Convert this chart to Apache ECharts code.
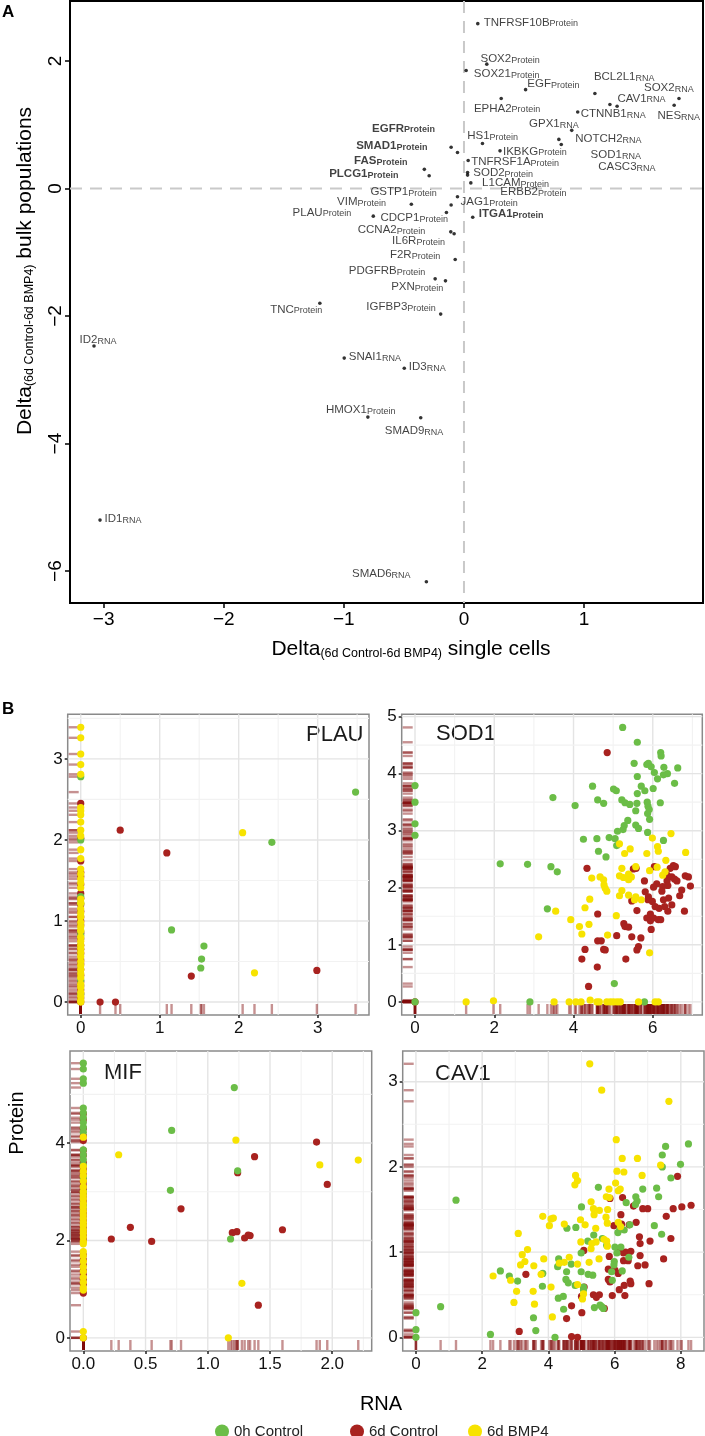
<!DOCTYPE html>
<html>
<head>
<meta charset="utf-8">
<script src="https://cdn.jsdelivr.net/npm/echarts@6/dist/echarts.min.js"></script>
<style>
html, body { margin: 0; padding: 0; background: #fff; }
#chart { width: 705px; height: 1436px; }
</style>
</head>
<body>
<div id="chart"></div>
<script>
// ---------- Panel A: delta single cells vs delta bulk ----------
const genesA = ['TNFRSF10B','SOX2','SOX21','EGF','EPHA2','BCL2L1','SOX2','CAV1','CASC3','CTNNB1','NES','GPX1','SOD1','NOTCH2',
  'HS1','IKBKG','TNFRSF1A','SOD2','ERBB2','L1CAM','JAG1','ITGA1','EGFR','SMAD1','FAS','PLCG1','GSTP1','VIM','PLAU','CDCP1',
  'CCNA2','IL6R','F2R','PDGFRB','PXN','TNC','IGFBP3','ID2','SNAI1','ID3','HMOX1','SMAD9','ID1','SMAD6'];
const typesA = ['Protein','Protein','Protein','Protein','Protein','RNA','RNA','RNA','RNA','RNA','RNA','RNA','RNA','RNA',
  'Protein','Protein','Protein','Protein','Protein','Protein','Protein','Protein','Protein','Protein','Protein','Protein','Protein','Protein','Protein','Protein',
  'Protein','Protein','Protein','Protein','Protein','Protein','Protein','RNA','RNA','RNA','Protein','RNA','RNA','RNA'];
const singleCellDelta = [0.115,0.19,0.018,0.513,0.31,1.09,1.79,1.275,1.215,0.947,1.75,0.897,0.79,0.81,
  0.154,0.30,0.035,0.03,0.03,0.057,-0.054,0.073,-0.107,-0.054,-0.33,-0.29,-0.107,-0.438,-0.755,-0.146,
  -0.11,-0.082,-0.073,-0.24,-0.154,-1.2,-0.194,-3.08,-0.997,-0.497,-0.80,-0.36,-3.03,-0.313];
const bulkDelta = [2.585,1.95,1.85,1.55,1.41,1.49,1.41,1.29,1.316,1.20,1.305,0.912,0.77,0.69,
  0.705,0.59,0.44,0.25,0.21,0.088,-0.13,-0.45,0.647,0.565,0.30,0.20,-0.26,-0.246,-0.434,-0.376,
  -0.68,-0.71,-1.113,-1.417,-1.448,-1.80,-1.97,-2.47,-2.66,-2.82,-3.585,-3.595,-5.20,-6.166];
const boldGenes = ['EGFR','SMAD1','FAS','PLCG1','ITGA1'];
// label placement (pixels from point), layout only
const labelOffsetA = [[6,-1.7],[-6.3,-5.7],[7.7,3.3],[1.7,-6],[-27.3,9.3],[-1,-17.3],[-35,-11],[0.3,-8.3],[-11.7,61.7],[3,1.7],[-16.7,10],[-42.7,-7.3],[31.7,14.7],[14,-6.3],
  [-15.3,-8.3],[3,0],[3,0.7],[5.7,-0.3],[32.7,16.7],[11.3,-0.7],[3,5],[6,-3.7],[-79,-19.3],[-101.3,-7],[-70.3,-9.3],[-100,-2],[-80.7,-13.3],[-74.3,-3],[-80.7,-4.3],[-66,5.3],
  [-93,-2.3],[-62,7],[-65.3,-5.3],[-86.3,-8.7],[-54.3,6],[-49.7,5.7],[-74.3,-7.3],[-14.4,-6.3],[4.5,-2],[4.5,-2.3],[-41.9,-7.7],[-36,12.3],[4.5,-1.7],[-74.4,-8.3]];
const xTicksA = [-3,-2,-1,0,1];
const yTicksA = [-6,-4,-2,0,2];

// ---------- Panel B: RNA vs protein per cell, [rna, protein] ----------
const groups = ['0h Control','6d Control','6d BMP4'];

const PLAU_0h = [[3.48,2.59],[2.42,1.97],[1.15,0.89],[1.56,0.69],[1.53,0.53],[1.52,0.42],
  [0,2.78],[0,2.00],[0,1.30],[0,1.22],[0,0.87],[0,0.82],[0,0.27],[0,0.10]];
const PLAU_6dCtrl = [[0.50,2.12],[1.09,1.84],[1.40,0.32],[2.99,0.39],[0.245,0],[0.44,0],
  [0,2.45],[0,2.02],[0,1.74],[0,1.60],[0,1.55],[0,1.45],[0,1.34],[0,1.28],[0,1.20],[0,1.12],[0,1.05],[0,1.00],[0,0.95],
  [0,0.85],[0,0.78],[0,0.70],[0,0.65],[0,0.60],[0,0.52],[0,0.47],[0,0.40],[0,0.33],[0,0.25],[0,0.20],[0,0.15],[0,0.10],
  [0,0.05],[0,0]];
const PLAU_6dBMP4 = [[2.05,2.09],[2.20,0.36],
  [0,3.39],[0,3.26],[0,3.06],[0,2.93],[0,2.81],[0,2.40],[0,2.36],[0,2.31],[0,2.22],[0,2.12],[0,2.05],[0,1.88],[0,1.77],
  [0,1.64],[0,1.58],[0,1.52],[0,1.47],[0,1.41],[0,1.27],[0,1.22],[0,1.15],[0,1.10],[0,1.05],[0,0.98],[0,0.93],[0,0.88],
  [0,0.80],[0,0.75],[0,0.70],[0,0.66],[0,0.61],[0,0.56],[0,0.50],[0,0.45],[0,0.40],[0,0.35],[0,0.30],[0,0.22],[0,0.18],
  [0,0.12],[0,0.07],[0,0.02],[0,0]];

const SOD1_0h = [[5.24,4.81],[5.61,4.55],[6.20,4.37],[6.21,4.31],[5.53,4.18],[5.85,4.16],[5.89,4.18],[5.96,4.12],[6.28,4.11],
  [6.63,4.10],[6.04,4.02],[6.27,3.98],[6.37,4.00],[6.12,3.91],[5.61,3.95],[6.55,3.83],[4.48,3.78],[5.71,3.78],[5.80,3.70],
  [6.01,3.74],[5.01,3.73],[5.08,3.70],[5.61,3.65],[3.48,3.58],[4.04,3.44],[4.61,3.54],[4.76,3.48],[5.22,3.54],[5.30,3.49],
  [5.42,3.46],[5.60,3.48],[5.86,3.50],[5.88,3.43],[5.91,3.37],[6.19,3.49],[5.57,3.35],[5.87,3.30],[5.92,3.20],[5.37,3.18],
  [5.28,3.09],[5.25,3.02],[5.11,2.99],[5.57,3.10],[5.64,3.04],[5.87,2.97],[4.25,2.85],[4.59,2.86],[4.90,2.88],[5.05,2.86],
  [5.09,2.74],[6.27,2.83],[4.63,2.64],[4.82,2.54],[2.84,2.41],[3.43,2.37],[3.59,2.28],[3.34,1.63],[2.15,2.42],[5.03,0.32],
  [2.90,0],[5.79,0],[0,3.79],[0,3.50],[0,3.12],[0,2.92],[0,0]];
const SOD1_6dCtrl = [[4.85,4.37],[4.34,2.34],[5.51,2.33],[5.58,2.34],[6.04,2.37],[6.52,2.39],[6.57,2.37],[6.44,2.34],[6.36,2.22],
  [6.48,2.19],[6.55,2.15],[6.82,2.21],[6.90,2.19],[5.79,2.12],[6.36,2.12],[6.61,2.12],[6.10,2.07],[6.02,2.01],[6.25,2.02],
  [6.38,2.04],[6.95,2.03],[6.73,1.96],[5.81,1.93],[5.89,1.84],[6.23,1.94],[6.68,1.86],[5.47,1.77],[5.99,1.76],[5.88,1.79],
  [6.27,1.79],[6.40,1.82],[6.48,1.70],[6.06,1.67],[6.16,1.64],[6.30,1.67],[5.60,1.60],[6.38,1.59],[6.80,1.59],[5.94,1.54],
  [5.85,1.47],[5.94,1.42],[6.02,1.47],[6.14,1.44],[6.20,1.44],[5.96,1.27],[4.61,1.54],[5.27,1.37],[5.30,1.32],[5.39,1.31],
  [5.47,1.14],[5.70,1.12],[4.61,1.07],[4.70,1.07],[5.09,1.16],[4.29,0.92],[4.76,0.92],[4.80,0.91],[5.64,0.97],[5.60,0.91],
  [4.21,0.75],[5.32,0.75],[4.60,0.61],[4.38,0.27],[0,0]];
const SOD1_6dBMP4 = [[6.46,2.95],[5.99,2.87],[5.16,2.77],[5.43,2.68],[5.29,2.60],[6.12,2.72],[6.14,2.64],[5.85,2.60],[6.83,2.62],
  [6.33,2.48],[5.22,2.34],[5.57,2.37],[6.11,2.36],[5.92,2.30],[5.16,2.21],[5.26,2.18],[5.39,2.24],[5.46,2.19],[5.39,2.14],
  [6.25,2.22],[6.31,2.28],[4.46,2.17],[4.67,2.19],[4.76,2.14],[4.77,2.05],[4.80,1.99],[4.84,1.94],[5.22,1.95],[5.16,1.86],
  [5.39,1.87],[5.57,1.84],[5.71,1.79],[5.54,1.79],[4.41,1.80],[4.29,1.65],[5.08,1.51],[3.55,1.59],[3.93,1.44],[4.15,1.32],
  [4.39,1.36],[4.21,1.19],[4.86,1.17],[3.12,1.14],[5.92,0.86],
  [1.29,0],[1.98,0.02],[3.51,0],[3.89,0],[4.06,0],[4.19,0],[4.42,0.03],[4.59,0],[4.65,0],[4.84,0],[4.93,0],[5.01,0],
  [5.10,0],[5.18,0],[5.64,0],[6.06,0],[6.14,0]];

const MIF_0h = [[1.213,5.14],[0.71,4.26],[1.24,3.43],[0.70,3.03],[1.183,2.03],
  [0,5.64],[0,5.52],[0,5.32],[0,5.23],[0,4.72],[0,4.62],[0,4.52],[0,4.42],[0,4.32],[0,4.22],[0,3.86],[0,3.76],[0,3.66],
  [0,3.55],[0,3.30],[0,3.00],[0,2.70]];
const MIF_6dCtrl = [[1.874,4.02],[1.376,3.72],[1.24,3.39],[1.96,3.15],[0.785,2.65],[0.378,2.27],[0.225,2.03],[0.549,1.98],
  [1.197,2.16],[1.234,2.18],[1.296,2.05],[1.325,2.11],[1.34,2.10],[1.60,2.22],[1.406,0.67],
  [0,4.60],[0,4.48],[0,4.30],[0,4.15],[0,4.05],[0,3.85],[0,3.75],[0,3.60],[0,3.52],[0,3.45],[0,3.35],[0,3.28],[0,3.20],
  [0,3.12],[0,3.05],[0,2.97],[0,2.90],[0,2.82],[0,2.75],[0,2.68],[0,2.60],[0,2.55],[0,2.50],[0,2.42],[0,2.35],[0,2.27],
  [0,2.20],[0,2.14],[0,2.10],[0,2.04],[0,2.00],[0,1.70],[0,1.60],[0,1.50],[0,1.38],[0,1.30],[0,1.20],[0,1.10],[0,0.92],[0,0]];
const MIF_6dBMP4 = [[1.226,4.06],[0.284,3.76],[1.90,3.55],[2.209,3.65],[1.274,1.12],[1.165,0],
  [0,4.12],[0,3.52],[0,3.42],[0,3.33],[0,3.22],[0,3.10],[0,3.00],[0,2.92],[0,2.85],[0,2.76],[0,2.68],[0,2.60],[0,2.52],
  [0,2.45],[0,2.37],[0,2.30],[0,2.22],[0,2.15],[0,2.07],[0,1.98],[0,1.93],[0,1.77],[0,1.68],[0,1.57],[0,1.46],[0,1.36],
  [0,1.24],[0,1.14],[0,1.03],[0,0.98],[0,0.13],[0,0]];

const CAV1_0h = [[8.23,2.27],[7.54,2.24],[7.44,2.14],[7.99,2.03],[7.44,2.00],[7.70,1.87],[5.51,1.76],[7.27,1.75],[6.85,1.74],
  [6.64,1.65],[6.68,1.60],[6.63,1.56],[7.33,1.65],[6.35,1.58],[5.00,1.53],[4.56,1.28],[4.83,1.29],[6.16,1.27],[6.29,1.26],
  [6.46,1.32],[7.20,1.31],[7.42,1.21],[6.10,1.23],[5.37,1.20],[5.63,1.16],[5.19,1.13],[6.01,1.06],[6.19,1.06],[5.76,1.08],
  [6.07,0.99],[5.99,0.89],[5.98,0.85],[5.91,0.77],[5.93,0.67],[6.43,0.94],[6.23,0.78],[4.99,0.99],[4.31,0.92],[4.28,0.83],
  [4.69,0.86],[4.55,0.77],[4.99,0.77],[5.20,0.74],[5.34,0.73],[3.83,0.75],[2.82,0.72],[2.55,0.78],[3.07,0.66],[4.53,0.68],
  [4.60,0.64],[3.82,0.60],[4.81,0.61],[5.06,0.59],[5.06,0.56],[4.30,0.46],[4.45,0.48],[5.39,0.35],[5.56,0.38],[5.61,0.36],
  [5.66,0.34],[4.46,0.33],[3.55,0.23],[3.62,0.08],[4.20,0],[2.25,0.035],[1.21,1.61],[0.745,0.36],[0,0.29],[0,0.09],[0,0]];
const CAV1_6dCtrl = [[7.90,1.89],[7.56,1.42],[7.77,1.51],[8.03,1.53],[8.31,1.55],[6.85,1.51],[7.00,1.51],[6.57,1.54],[6.24,1.64],
  [5.86,1.63],[7.70,1.16],[7.48,0.92],[7.07,1.13],[6.75,1.18],[6.77,1.10],[6.65,1.35],[6.19,1.44],[5.98,1.31],[6.21,1.33],
  [6.44,1.32],[6.33,1.00],[6.49,1.01],[6.14,1.03],[6.27,0.99],[5.84,0.95],[6.77,0.96],[5.07,1.02],[6.27,0.90],[6.41,0.90],
  [6.92,0.85],[6.70,0.84],[5.81,0.80],[6.01,0.79],[6.11,0.75],[5.81,0.68],[5.86,0.65],[6.47,0.66],[6.49,0.63],[7.04,0.63],
  [6.29,0.61],[6.14,0.56],[6.31,0.49],[5.93,0.49],[5.08,0.59],[5.00,0.48],[5.36,0.50],[5.54,0.50],[5.45,0.47],[5.69,0.34],
  [4.70,0.37],[5.01,0.29],[4.55,0.22],[3.32,0.74],[3.12,0.07],[4.70,0.01],[4.88,0]];
const CAV1_6dBMP4 = [[5.25,3.21],[5.61,2.90],[7.64,2.77],[6.05,2.32],[6.23,2.10],[6.69,2.10],[7.39,2.02],[6.07,1.95],[6.28,1.94],
  [6.83,1.90],[4.82,1.90],[4.88,1.84],[4.80,1.79],[6.03,1.81],[5.83,1.74],[6.11,1.72],[6.17,1.74],[5.75,1.65],[5.29,1.59],
  [5.36,1.51],[5.54,1.49],[5.38,1.44],[5.79,1.50],[5.74,1.41],[5.78,1.34],[3.83,1.42],[4.08,1.39],[4.15,1.40],[4.03,1.31],
  [4.48,1.33],[4.97,1.38],[5.11,1.32],[5.43,1.28],[6.11,1.35],[6.18,1.30],[3.09,1.22],[5.44,1.12],[5.68,1.15],[4.98,1.12],
  [5.31,1.10],[5.29,1.04],[5.76,1.13],[5.78,1.07],[3.37,1.03],[3.21,0.97],[3.16,0.85],[3.29,0.89],[3.56,0.84],[3.86,0.92],
  [4.63,0.94],[4.88,0.86],[5.23,0.88],[5.53,0.92],[4.48,0.88],[4.33,0.87],[3.78,0.74],[2.86,0.67],[3.04,0.54],[3.54,0.54],
  [4.08,0.59],[4.88,0.62],[2.96,0.41],[3.58,0.39],[5.06,0.51],[5.03,0.45],[4.12,0.24],[2.33,0.72],[5.84,1.64]];

// tick labels for the four small panels
const PLAU_xTicks = [0,1,2,3], PLAU_yTicks = [0,1,2,3];
const SOD1_xTicks = [0,2,4,6], SOD1_yTicks = [0,1,2,3,4,5];
const MIF_xTicks = [0,0.5,1,1.5,2], MIF_yTicks = [0,2,4];
const CAV1_xTicks = [0,2,4,6,8], CAV1_yTicks = [0,1,2,3];

// ---------- layout / style ----------
const FONT = "'Liberation Sans', Arial, Helvetica, sans-serif";
const COLORS = ['#6bbd47', '#a8221f', '#f7e300'];
const RUG = 'rgba(128,12,12,0.45)';

const panels = [
  { gene: 'PLAU', data: [PLAU_0h, PLAU_6dCtrl, PLAU_6dBMP4], xt: PLAU_xTicks, yt: PLAU_yTicks,
    xm: [0.5,1.5,2.5,3.5], ym: [0.5,1.5,2.5,3.5], x: [-0.165, 3.65], y: [-0.16, 3.55],
    grid: { left: 67.7, top: 714.3, width: 301.3, height: 300.7 }, title: [306, 735], fmt: v => String(v) },
  { gene: 'SOD1', data: [SOD1_0h, SOD1_6dCtrl, SOD1_6dBMP4], xt: SOD1_xTicks, yt: SOD1_yTicks,
    xm: [1,3,5,7], ym: [0.5,1.5,2.5,3.5,4.5], x: [-0.336, 7.25], y: [-0.23, 5.04],
    grid: { left: 401.7, top: 714.3, width: 300.6, height: 300.7 }, title: [436, 734], fmt: v => String(v) },
  { gene: 'MIF', data: [MIF_0h, MIF_6dCtrl, MIF_6dBMP4], xt: MIF_xTicks, yt: MIF_yTicks,
    xm: [0.25,0.75,1.25,1.75,2.25], ym: [1,3,5], x: [-0.107, 2.317], y: [-0.27, 5.89],
    grid: { left: 70, top: 1051, width: 301.7, height: 300 }, title: [104, 1073], fmt: v => v.toFixed(1) },
  { gene: 'CAV1', data: [CAV1_0h, CAV1_6dCtrl, CAV1_6dBMP4], xt: CAV1_xTicks, yt: CAV1_yTicks,
    xm: [1,3,5,7], ym: [0.5,1.5,2.5], x: [-0.40, 8.70], y: [-0.16, 3.36],
    grid: { left: 402.7, top: 1051, width: 301.3, height: 300 }, title: [435, 1074], fmt: v => String(v) }
];

const minus = v => String(v).replace('-', '\u2212');

const grids = [{ left: 70, top: 1, width: 633, height: 602, show: true, borderColor: '#000', borderWidth: 2, backgroundColor: '#fff' }];
const xAxes = [{
  gridIndex: 0, type: 'value', min: -3.28, max: 1.99, position: 'bottom', splitLine: { show: false },
  axisLine: { show: false, onZero: false },
  axisTick: { show: true, customValues: xTicksA, length: 5, lineStyle: { color: '#000', width: 1.5 } },
  axisLabel: { customValues: xTicksA, formatter: minus, fontSize: 19, color: '#000', fontFamily: FONT, margin: 7 }
}];
const yAxes = [{
  gridIndex: 0, type: 'value', min: -6.5, max: 2.94, position: 'left', splitLine: { show: false },
  axisLine: { show: false, onZero: false },
  axisTick: { show: true, customValues: yTicksA, length: 5, lineStyle: { color: '#000', width: 1.5 } },
  axisLabel: { customValues: yTicksA, formatter: minus, rotate: 90, fontSize: 19, color: '#000', fontFamily: FONT, margin: 5 }
}];

const series = [];

// dashed zero lines for panel A
series.push({
  type: 'custom', xAxisIndex: 0, yAxisIndex: 0, z: 1, silent: true, data: [[0, 0]],
  renderItem: (params, api) => {
    const cs = params.coordSys;
    const p = api.coord([0, 0]);
    const st = { stroke: '#c9c9c9', lineWidth: 2, lineDash: [12, 8] };
    return { type: 'group', children: [
      { type: 'line', shape: { x1: p[0], y1: cs.y, x2: p[0], y2: cs.y + cs.height }, style: st },
      { type: 'line', shape: { x1: cs.x, y1: p[1], x2: cs.x + cs.width, y2: p[1] }, style: st }
    ] };
  }
});

series.push({
  type: 'scatter', xAxisIndex: 0, yAxisIndex: 0, z: 3, symbolSize: 3.6,
  itemStyle: { color: '#000' },
  data: singleCellDelta.map((x, i) => ({ value: [x, bulkDelta[i]], label: { offset: [labelOffsetA[i][0] - 1.8, labelOffsetA[i][1]] } })),
  label: {
    show: true, position: 'right', distance: 0,
    formatter: p => {
      const b = boldGenes.includes(genesA[p.dataIndex]);
      return '{' + (b ? 'gb' : 'g') + '|' + genesA[p.dataIndex] + '}{' + (b ? 'sb' : 's') + '|' + typesA[p.dataIndex] + '}';
    },
    rich: {
      g: { fontSize: 11.5, fontFamily: FONT, color: '#111', lineHeight: 13, verticalAlign: 'bottom' },
      s: { fontSize: 9, fontFamily: FONT, color: '#111', lineHeight: 9, verticalAlign: 'bottom' },
      gb: { fontSize: 11.5, fontWeight: 'bold', fontFamily: FONT, color: '#111', lineHeight: 13, verticalAlign: 'bottom' },
      sb: { fontSize: 9, fontWeight: 'bold', fontFamily: FONT, color: '#111', lineHeight: 9, verticalAlign: 'bottom' }
    }
  }
});

const graphics = [
  { type: 'text', x: 2, y: 12, style: { text: 'A', font: 'bold 17px ' + FONT, fill: '#000', verticalAlign: 'middle' } },
  { type: 'text', x: 2, y: 709, style: { text: 'B', font: 'bold 17px ' + FONT, fill: '#000', verticalAlign: 'middle' } },
  { type: 'text', x: 24, y: 271, rotation: Math.PI / 2, style: {
      text: '{m|Delta}{s|(6d Control-6d BMP4)}{m| bulk populations}', align: 'center', verticalAlign: 'middle',
      rich: { m: { fontSize: 21, fontFamily: FONT, fill: '#000', lineHeight: 24, verticalAlign: 'bottom' },
              s: { fontSize: 12.5, fontFamily: FONT, fill: '#000', lineHeight: 12.5, verticalAlign: 'bottom' } } } },
  { type: 'text', x: 411, y: 648, style: {
      text: '{m|Delta}{s|(6d Control-6d BMP4)}{m| single cells}', align: 'center', verticalAlign: 'middle',
      rich: { m: { fontSize: 21, fontFamily: FONT, fill: '#000', lineHeight: 24, verticalAlign: 'bottom' },
              s: { fontSize: 12.5, fontFamily: FONT, fill: '#000', lineHeight: 12.5, verticalAlign: 'bottom' } } } },
  { type: 'text', x: 17, y: 1123, rotation: Math.PI / 2, style: { text: 'Protein', font: '20px ' + FONT, fill: '#000', align: 'center', verticalAlign: 'middle' } },
  { type: 'text', x: 381, y: 1404, style: { text: 'RNA', font: '20px ' + FONT, fill: '#000', align: 'center', verticalAlign: 'middle' } }
];

panels.forEach((p, k) => {
  const gi = k + 1;
  grids.push(Object.assign({ show: true, borderColor: '#8a8a8a', borderWidth: 1.5, backgroundColor: '#fff' }, p.grid));
  xAxes.push({
    gridIndex: gi, type: 'value', min: p.x[0], max: p.x[1], position: 'bottom', splitLine: { show: false },
    axisLine: { show: false, onZero: false },
    axisTick: { show: true, customValues: p.xt, length: 3, lineStyle: { color: '#222', width: 1.5 } },
    axisLabel: { customValues: p.xt, formatter: p.fmt, fontSize: 17, color: '#111', fontFamily: FONT, margin: 5 }
  });
  yAxes.push({
    gridIndex: gi, type: 'value', min: p.y[0], max: p.y[1], position: 'left', splitLine: { show: false },
    axisLine: { show: false, onZero: false },
    axisTick: { show: true, customValues: p.yt, length: 3, lineStyle: { color: '#222', width: 1.5 } },
    axisLabel: { customValues: p.yt, fontSize: 17, color: '#111', fontFamily: FONT, margin: 5 }
  });
  // background grid lines: [value, isX, isMajor]
  const lines = [];
  p.xt.forEach(v => lines.push([v, 1, 1]));
  p.xm.forEach(v => lines.push([v, 1, 0]));
  p.yt.forEach(v => lines.push([v, 0, 1]));
  p.ym.forEach(v => lines.push([v, 0, 0]));
  series.push({
    type: 'custom', xAxisIndex: gi, yAxisIndex: gi, z: 1, silent: true, data: lines,
    renderItem: (params, api) => {
      const cs = params.coordSys;
      const v = api.value(0), isX = api.value(1), major = api.value(2);
      const st = { stroke: major ? '#e4e4e4' : '#f2f2f2', lineWidth: major ? 1.4 : 1.1 };
      if (isX) {
        const x = api.coord([v, 0])[0];
        return { type: 'line', shape: { x1: x, y1: cs.y, x2: x, y2: cs.y + cs.height }, style: st };
      }
      const y = api.coord([0, v])[1];
      return { type: 'line', shape: { x1: cs.x, y1: y, x2: cs.x + cs.width, y2: y }, style: st };
    }
  });
  // rug marks on left and bottom edges from every cell
  const all = p.data[0].concat(p.data[1], p.data[2]);
  series.push({
    type: 'custom', xAxisIndex: gi, yAxisIndex: gi, z: 2, silent: true, data: all,
    renderItem: (params, api) => {
      const cs = params.coordSys;
      const pt = api.coord([api.value(0), api.value(1)]);
      const st = { stroke: RUG, lineWidth: 2.4 };
      const b = cs.y + cs.height;
      return { type: 'group', children: [
        { type: 'line', shape: { x1: cs.x + 1, y1: pt[1], x2: cs.x + 11, y2: pt[1] }, style: st },
        { type: 'line', shape: { x1: pt[0], y1: b - 1, x2: pt[0], y2: b - 11 }, style: st }
      ] };
    }
  });
  // points: red first, then green, then yellow on top
  [1, 0, 2].forEach(g => {
    series.push({
      type: 'scatter', name: groups[g], xAxisIndex: gi, yAxisIndex: gi, z: 3, symbolSize: 7.2,
      itemStyle: { color: COLORS[g], opacity: 1 }, data: p.data[g]
    });
  });
  graphics.push({ type: 'text', x: p.title[0], y: p.title[1], style: { text: p.gene, font: '22px ' + FONT, fill: '#1a1a1a', verticalAlign: 'middle' } });
});

const legendLeft = [210, 345, 463];
const legends = groups.map((g, i) => ({
  data: [g], left: legendLeft[i], top: 1419, icon: 'circle', itemWidth: 14, itemHeight: 14, itemGap: 0,
  selectedMode: false, textStyle: { fontSize: 15, color: '#222', fontFamily: FONT, padding: [0, 0, 0, 0] }
}));

const chart = echarts.init(document.getElementById('chart'), null, { renderer: 'canvas' });
chart.setOption({
  animation: false,
  backgroundColor: '#fff',
  textStyle: { fontFamily: FONT },
  grid: grids, xAxis: xAxes, yAxis: yAxes,
  legend: legends,
  series: series,
  graphic: graphics
});
</script>
</body>
</html>
